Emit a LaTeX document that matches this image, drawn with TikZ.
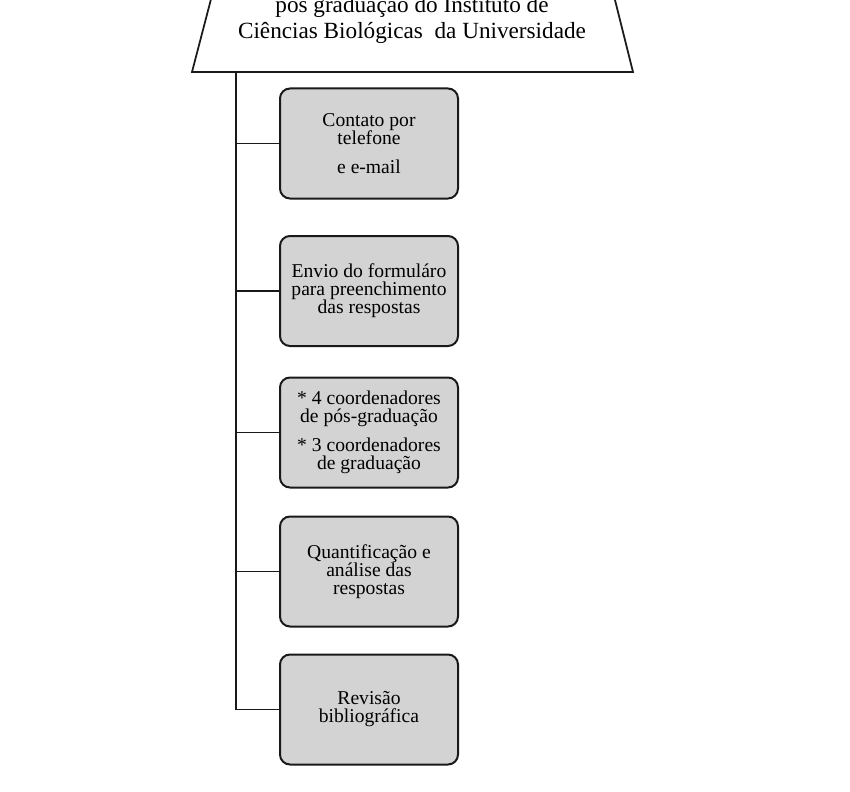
\documentclass[tikz,border=0pt]{standalone}
\usepackage{fontspec}
\setmainfont{Liberation Serif}
\definecolor{boxgray}{RGB}{211,211,211}
\definecolor{linegray}{RGB}{25,25,25}

\begin{document}
\begin{tikzpicture}[x=0.75pt,y=-0.75pt]
        \useasboundingbox (0,0) rectangle (850,792);
        \clip (0,0) rectangle (850,792);

        % title block, cut at the top
        \draw[draw=linegray, line width=1.3pt]
              (216,-20) -- (192,72) -- (633,72) -- (610,-20);
        \node[font=\fontsize{17.4}{19.5}\selectfont, align=center, anchor=base]
              (title) at (412,38.5) {pós graduação do Instituto de\\Ciências Biológicas\ \ da Universidade};

        \begin{scope}[every node/.style={draw=linegray, line width=1.5pt, fill=boxgray,
                      rounded corners=7.5pt, minimum width=133.5pt, minimum height=82.5pt,
                      align=center, inner sep=0pt, font=\fontsize{14.7}{13.5}\selectfont}]
          \node (1) at (369,143.5) {Contato por\\telefone\\[8pt]e e-mail};
          \node (2) at (369,291)   {Envio do formuláro\\para preenchimento\\das respostas};
          \node (3) at (369,432.5) {* 4 coordenadores\\de pós-graduação\\[8pt]* 3 coordenadores\\de graduação};
          \node (4) at (369,571.5) {Quantificação e\\análise das\\respostas};
          \node (5) at (369,709.5) {Revisão\\bibliográfica};
        \end{scope}

        \coordinate (top) at (236,72);

        \begin{scope}[draw=linegray, line width=1.4pt]
          \draw (top) |- (5.west);
          \draw (1.west) -- (1.west -| top);
          \draw (2.west) -- (2.west -| top);
          \draw (3.west) -- (3.west -| top);
          \draw (4.west) -- (4.west -| top);
        \end{scope}

      \end{tikzpicture}
\end{document}
